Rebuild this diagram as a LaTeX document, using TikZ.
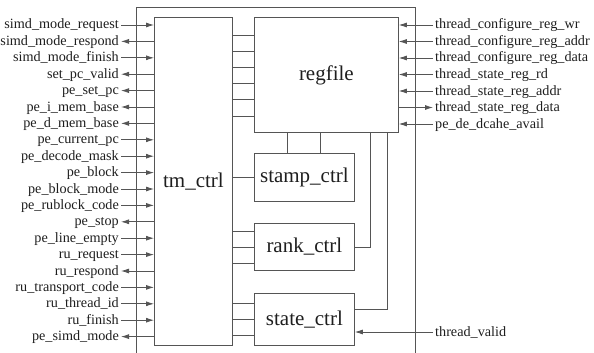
\documentclass[tikz,border=0pt]{standalone}
\usepackage{fontspec}
\setmainfont{Liberation Serif}
\usetikzlibrary{arrows.meta,calc}
\definecolor{ln}{HTML}{555555}
\definecolor{tx}{HTML}{1E1E1E}
\begin{document}
\begin{tikzpicture}[x=1pt,y=-1pt,
  blk/.style={draw=ln, line width=0.8pt, inner sep=0pt, anchor=north west, font=\fontsize{21}{24}\selectfont, text=tx},
  lbl/.style={inner sep=0pt, font=\fontsize{14.2}{16}\selectfont, text=tx, text height=11pt, text depth=3pt},
  wire/.style={draw=ln, line width=0.8pt},
  toR/.style={-{Latex[length=8pt,width=5pt]}},
  toL/.style={{Latex[length=8pt,width=5pt]}-},
  plain/.style={}]
\useasboundingbox (0,0) rectangle (594,353);
% outer frame
\draw[wire] (136,353) -- (136,7) -- (415,7) -- (415,353);
% blocks
\node[blk, minimum width=78pt, minimum height=328pt] (tm) at (154,17) {tm\_ctrl};
\node[blk, minimum width=144pt, minimum height=115pt] (rf) at (254,17) {regfile};
\node[blk, minimum width=100pt, minimum height=48pt] (st) at (254,153) {stamp\_ctrl};
\node[blk, minimum width=100pt, minimum height=47pt] (rk) at (254,223) {rank\_ctrl};
\node[blk, minimum width=100pt, minimum height=52pt] (sc) at (254,293) {state\_ctrl};
% tm_ctrl <-> regfile
\foreach \y in {35,51,67,83,99,116} {
  \coordinate (c) at (0,\y);
  \draw[wire] (tm.east |- c) -- (rf.west |- c);
}
% tm_ctrl <-> stamp_ctrl
\coordinate (cs) at (0,177);
\draw[wire] (tm.east |- cs) -- (st.west |- cs);
% tm_ctrl <-> rank_ctrl
\foreach \y in {231,247,263} {
  \coordinate (c) at (0,\y);
  \draw[wire] (tm.east |- c) -- (rk.west |- c);
}
% tm_ctrl <-> state_ctrl
\foreach \y in {303,319,335} {
  \coordinate (c) at (0,\y);
  \draw[wire] (tm.east |- c) -- (sc.west |- c);
}
% regfile <-> stamp_ctrl
\foreach \x in {287,320} {
  \coordinate (c) at (\x,0);
  \draw[wire] (rf.south -| c) -- (st.north -| c);
}
% regfile <-> rank_ctrl
\coordinate (b1) at (370,247);
\draw[wire] (rf.south -| b1) -- (b1) -- (rk.east |- b1);
% regfile <-> state_ctrl
\coordinate (b2) at (387,309);
\draw[wire] (rf.south -| b2) -- (b2) -- (sc.east |- b2);
% thread_valid
\node[lbl, anchor=west] (tv) at (435,332) {thread\_valid};
\draw[wire,toR] ([xshift=-2pt]tv.west) -- (sc.east |- tv.west);
% left signals
\foreach \t/\d [count=\i from 0] in {
  simd\_mode\_request/toR, simd\_mode\_respond/toL, simd\_mode\_finish/toR,
  set\_pc\_valid/toL, pe\_set\_pc/toL, pe\_i\_mem\_base/toL, pe\_d\_mem\_base/toL,
  pe\_current\_pc/toR, pe\_decode\_mask/toR, pe\_block/toR, pe\_block\_mode/toR,
  pe\_rublock\_code/toR, pe\_stop/toL, pe\_line\_empty/toR, ru\_request/toR,
  ru\_respond/toL, ru\_transport\_code/toR, ru\_thread\_id/toR, ru\_finish/toR,
  pe\_simd\_mode/toL} {
  \node[lbl, anchor=east] (L\i) at (119,25+16.4*\i) {\t};
  \draw[wire,\d] ([xshift=2pt]L\i.east) -- (tm.west |- L\i.east);
}
% right signals
\foreach \t/\d [count=\i from 0] in {
  thread\_configure\_reg\_wr/toR, thread\_configure\_reg\_addr/toR,
  thread\_configure\_reg\_data/toR, thread\_state\_reg\_rd/toR,
  thread\_state\_reg\_addr/toR, thread\_state\_reg\_data/toL,
  pe\_de\_dcahe\_avail/toR} {
  \node[lbl, anchor=west] (R\i) at (435,25+16.5*\i) {\t};
  \draw[wire,\d] ([xshift=-2pt]R\i.west) -- (rf.east |- R\i.west);
}
\end{tikzpicture}
\end{document}
